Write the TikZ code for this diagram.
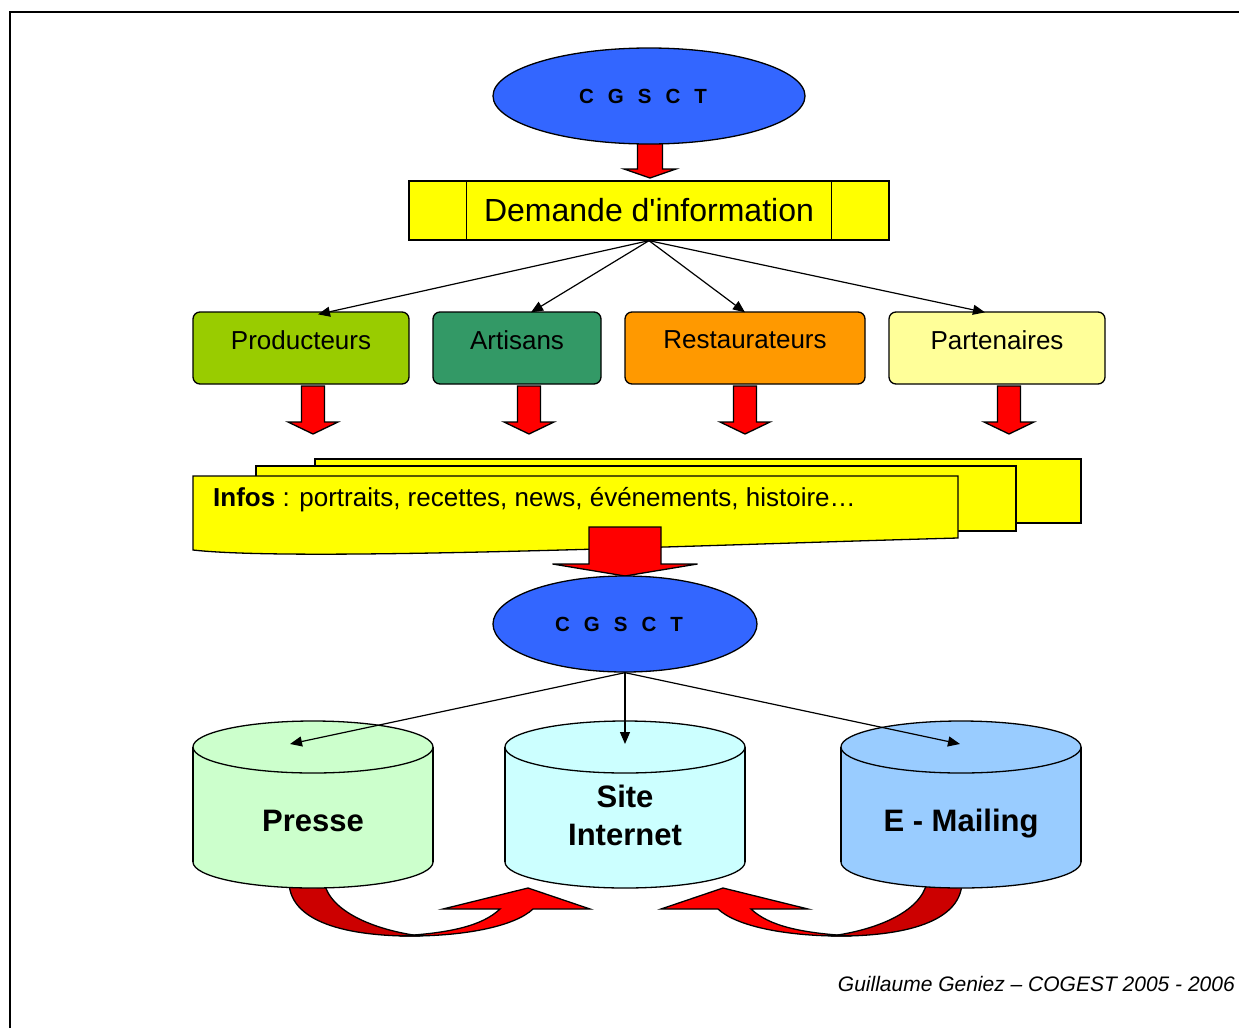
\documentclass[tikz,border=0pt]{standalone}
\usepackage{fontspec}
\setmainfont{Liberation Sans}[Ligatures=TeXOff]
\usetikzlibrary{arrows.meta,shapes.geometric}
\definecolor{cblue}{HTML}{3366FF}
\definecolor{cyel}{HTML}{FFFF00}
\definecolor{cred}{HTML}{FF0000}
\definecolor{cdark}{HTML}{CC0000}
\definecolor{cprod}{HTML}{99CC00}
\definecolor{cart}{HTML}{339966}
\definecolor{crest}{HTML}{FF9900}
\definecolor{cpart}{HTML}{FFFF99}
\definecolor{cpresse}{HTML}{CCFFCC}
\definecolor{csite}{HTML}{CCFFFF}
\definecolor{cmail}{HTML}{99CCFF}
\newcommand\myblk[6]{\draw[redblk] (#1-#5,#2) -- (#1+#5,#2) -- (#1+#5,#3) -- (#1+#6,#3) -- (#1,#4) -- (#1-#6,#3) -- (#1-#5,#3) -- cycle;}
\newcommand\mycyl[2]{%
  \draw[outline, fill=#2] (#1,862) ellipse [x radius=120, y radius=26];
  \fill[#2] (#1-120,747) rectangle (#1+120,862);
  \draw[outline] (#1-120,747) -- (#1-120,862) (#1+120,747) -- (#1+120,862);
  \draw[outline, fill=#2] (#1,747) ellipse [x radius=120, y radius=26];}
\newcommand\mycurved{%
  \draw[outline, fill=cdark] (289,882) .. controls (290,925) and (355,937) .. (420,936) .. controls (375,930) and (330,912) .. (324,882) -- cycle;
  \draw[outline, fill=cred, line join=miter] (400,936) .. controls (465,937) and (515,926) .. (533,909) -- (590,909) -- (528,888) -- (443,909) -- (500,909) .. controls (482,926) and (450,933) .. (400,936) -- cycle;}
\newcommand\mycgsct{C\hspace{14pt}G\hspace{14pt}S\hspace{14pt}C\hspace{14pt}T\kern12pt}
\begin{document}
\begin{tikzpicture}[x=1pt,y=-1pt,
  outline/.style={draw=black, line width=1.3pt},
  redblk/.style={outline, fill=cred, line join=miter},
  conn/.style={draw=black, line width=1.2pt, -{Triangle[length=12pt,width=10pt]}},
  oval/.style={ellipse, outline, fill=cblue, minimum height=96pt, inner sep=0pt, font=\fontsize{20.5}{24}\selectfont\bfseries},
  boxstyle/.style={rectangle, rounded corners=7pt, outline, minimum height=72pt, inner sep=0pt},
  lbl/.style={inner sep=0pt, font=\fontsize{26}{30}\selectfont},
  cyltxt/.style={inner sep=0pt, align=center, font=\fontsize{31}{38}\selectfont\bfseries}]
\useasboundingbox (0,0) rectangle (1239,1028);
\fill[white] (0,0) rectangle (1239,1028);
\draw[line width=2.2pt] (10,1028) -- (10,12) -- (1239,12);

% top
\myblk{650}{135}{169}{178}{12.5}{26}
\node[oval, minimum width=312pt] (cg1) at (649,96) {\mycgsct};
\node[rectangle, outline, fill=cyel, minimum width=480pt, minimum height=59pt, inner sep=0pt, font=\fontsize{32}{38}\selectfont] (dem) at (649,210.5) {Demande d'information};
\draw[outline] ([xshift=58pt]dem.north west) -- ([xshift=58pt]dem.south west);
\draw[outline] ([xshift=-58pt]dem.north east) -- ([xshift=-58pt]dem.south east);

% boxes
\node[boxstyle, fill=cprod, minimum width=216pt] (prod) at (301,348) {};
\node[boxstyle, fill=cart, minimum width=168pt] (art) at (517,348) {};
\node[boxstyle, fill=crest, minimum width=240pt] (rest) at (745,348) {};
\node[boxstyle, fill=cpart, minimum width=216pt] (part) at (997,348) {};
\node[lbl] (prodt) at (301,340) {Producteurs};
\node[lbl] (artt) at (517,340) {Artisans};
\node[lbl] (restt) at (745,340) {Restaurateurs};
\node[lbl] (partt) at (997,340) {Partenaires};

\draw[conn] (dem.south) -- ([xshift=17pt,yshift=-3pt]prod.north);
\draw[conn] (dem.south) -- ([xshift=14pt,yshift=-1pt]art.north);
\draw[conn] (dem.south) -- ([yshift=-1pt]rest.north);
\draw[conn] (dem.south) -- ([xshift=-12pt,yshift=-1pt]part.north);

\myblk{313}{386}{422}{434}{11.5}{25}
\myblk{529}{386}{422}{434}{11.5}{25}
\myblk{745}{386}{422}{434}{11.5}{25}
\myblk{1009}{386}{422}{434}{11.5}{25}

% sheets
\draw[outline, fill=cyel] (315,459) rectangle (1081,523);
\draw[outline, fill=cyel] (256,466) rectangle (1016,531);
\draw[outline, fill=cyel] (193,476) -- (958,476) -- (958,538) .. controls (700,545) and (300,562) .. (193,550) -- cycle;
\node[lbl, anchor=west] (infos) at (213,500) {\textbf{Infos} : portraits, recettes, news, événements, histoire…};

\myblk{625}{527}{564}{576}{36}{72.5}
\node[oval, minimum width=264pt] (cg2) at (625,624) {\mycgsct};

% curved arrows
\mycurved
\begin{scope}[shift={(1251,0)}, xscale=-1]
\mycurved
\end{scope}

% cylinders
\mycyl{313}{cpresse}
\mycyl{625}{csite}
\mycyl{961}{cmail}
\node[cyltxt] (presse) at (313,821) {Presse};
\node[cyltxt] (site) at (625,815) {Site\\Internet};
\node[cyltxt] (mail) at (961,824) {E - Mailing};

\coordinate (pin) at (290,744);
\coordinate (sin) at (625,744);
\coordinate (min) at (960,744);
\draw[conn] (cg2.south) -- (pin);
\draw[conn] (cg2.south) -- (sin);
\draw[conn] (cg2.south) -- (min);

\node[anchor=east, inner sep=0pt, font=\fontsize{21}{25}\selectfont\itshape] (foot) at (1235,984) {Guillaume Geniez – COGEST 2005 - 2006};
\end{tikzpicture}
\end{document}
